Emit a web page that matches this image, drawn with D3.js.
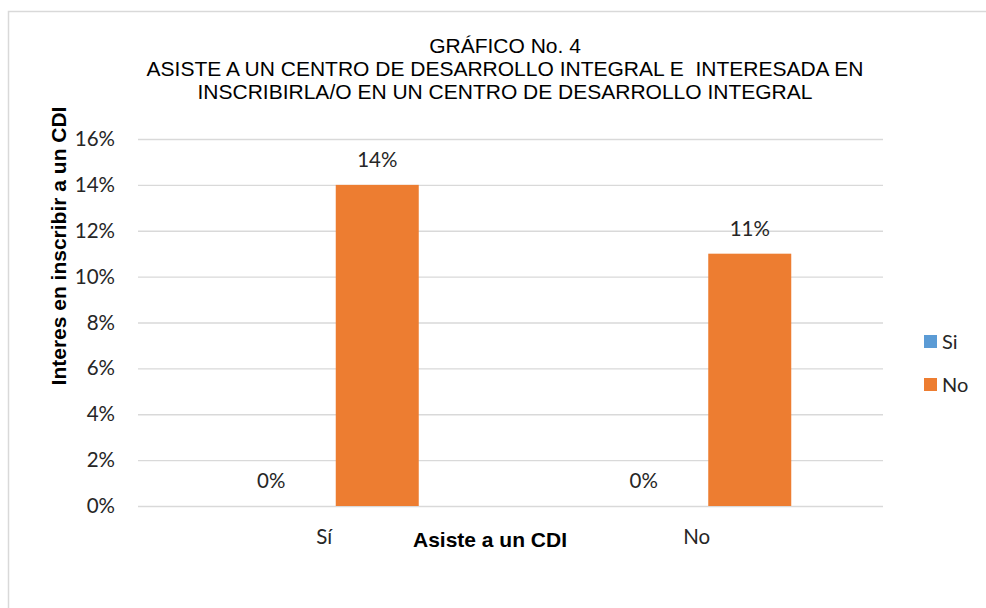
<!DOCTYPE html>
<html>
<head>
<meta charset="utf-8">
<script src="https://cdn.jsdelivr.net/npm/d3@7"></script>
<style>
  html, body { margin: 0; padding: 0; background: #fff; }
  svg { display: block; }
</style>
</head>
<body>
<svg id="chart" width="986" height="608"></svg>
<script>
// Chart data
const categories = ["Sí", "No"];
const seriesNames = ["Si", "No"];
const siValues = [0, 0];
const noValues = [0.14, 0.11];
const yTicks = [0, 0.02, 0.04, 0.06, 0.08, 0.10, 0.12, 0.14, 0.16];
const titleLines = [
  "GRÁFICO No. 4",
  "ASISTE A UN CENTRO DE DESARROLLO INTEGRAL E  INTERESADA EN",
  "INSCRIBIRLA/O EN UN CENTRO DE DESARROLLO INTEGRAL"
];
const yTitle = "Interes en inscribir a un CDI";
const xTitle = "Asiste a un CDI";

const colors = { "Si": "#5B9BD5", "No": "#ED7D31" };
const seriesValues = { "Si": siValues, "No": noValues };

const svg = d3.select("#chart");
const W = 986, H = 608;
const plot = { left: 138, right: 883, top: 139, bottom: 506 };
const bodyFont = "Lato, 'Open Sans', sans-serif";
const titleFont = "'Liberation Sans', Arial, sans-serif";
const textColor = "#262626";

// Chart area outline
svg.append("rect")
  .attr("x", 8.5).attr("y", 11.5)
  .attr("width", W + 20).attr("height", H + 20)
  .attr("fill", "#fff").attr("stroke", "#D9D9D9").attr("stroke-width", 1.5);

const y = d3.scaleLinear().domain([0, 0.16]).range([plot.bottom, plot.top]);
const x0 = d3.scaleBand().domain(categories).range([plot.left, plot.right]);
const x1 = d3.scaleBand().domain(seriesNames)
  .range([-106, 106]).paddingInner(0.217).paddingOuter(0.1085);

// Gridlines and y tick labels
const yAxis = d3.axisLeft(y).tickValues(yTicks)
  .tickFormat(d3.format(".0%")).tickSize(-(plot.right - plot.left)).tickPadding(23);
const gy = svg.append("g").attr("transform", `translate(${plot.left},0)`).call(yAxis);
gy.select(".domain").remove();
gy.selectAll(".tick line").attr("stroke", "#D9D9D9").attr("stroke-width", 1.3);
gy.selectAll(".tick text")
  .attr("fill", textColor).style("font-family", bodyFont).style("font-size", "20.5px");

// Category labels
const xAxis = d3.axisBottom(x0).tickSize(0).tickPadding(23);
const gx = svg.append("g").attr("transform", `translate(0,${plot.bottom})`).call(xAxis);
gx.select(".domain").remove();
gx.selectAll(".tick text")
  .attr("fill", textColor).style("font-family", bodyFont).style("font-size", "20.5px");

// Bars
const rows = categories.map((c, i) => ({
  cat: c,
  vals: seriesNames.map(s => ({ series: s, value: seriesValues[s][i] }))
}));
const groups = svg.append("g").selectAll("g").data(rows).join("g")
  .attr("transform", d => `translate(${x0(d.cat) + x0.bandwidth() / 2},0)`);
groups.selectAll("rect").data(d => d.vals).join("rect")
  .attr("x", d => x1(d.series))
  .attr("width", x1.bandwidth())
  .attr("y", d => y(d.value))
  .attr("height", d => y(0) - y(d.value))
  .attr("fill", d => colors[d.series]);

// Value labels
groups.selectAll("text.val").data(d => d.vals).join("text")
  .attr("class", "val")
  .attr("x", d => x1(d.series) + x1.bandwidth() / 2)
  .attr("y", d => y(d.value) - 18)
  .attr("text-anchor", "middle")
  .attr("fill", textColor)
  .style("font-family", bodyFont).style("font-size", "20.5px")
  .text(d => d3.format(".0%")(d.value));

// Title
svg.append("g").selectAll("text").data(titleLines).join("text")
  .attr("x", 505)
  .attr("y", (d, i) => 53 + i * 23)
  .attr("text-anchor", "middle")
  .attr("fill", "#000")
  .attr("xml:space", "preserve")
  .style("white-space", "pre")
  .style("font-family", titleFont).style("font-size", "21px")
  .text(d => d);

// Axis titles
svg.append("text")
  .attr("transform", "translate(66,246) rotate(-90)")
  .attr("text-anchor", "middle")
  .attr("fill", "#000")
  .style("font-family", titleFont).style("font-size", "21px").style("font-weight", "bold")
  .text(yTitle);

svg.append("text")
  .attr("x", 490).attr("y", 547)
  .attr("text-anchor", "middle")
  .attr("fill", "#000")
  .style("font-family", titleFont).style("font-size", "21px").style("font-weight", "bold")
  .text(xTitle);

// Legend
const legend = svg.append("g").selectAll("g").data(seriesNames).join("g")
  .attr("transform", (d, i) => `translate(924,${335 + i * 43})`);
legend.append("rect").attr("width", 13).attr("height", 13).attr("fill", d => colors[d]);
legend.append("text")
  .attr("x", 18).attr("y", 6.5).attr("dy", "0.36em")
  .attr("fill", textColor)
  .style("font-family", bodyFont).style("font-size", "20px")
  .text(d => d);
</script>
</body>
</html>
